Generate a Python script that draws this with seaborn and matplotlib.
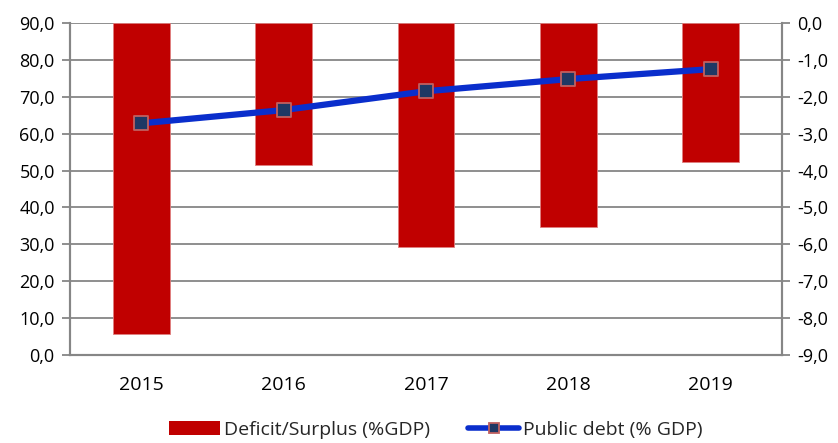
import matplotlib
matplotlib.use("Agg")
import matplotlib.pyplot as plt
import seaborn as sns
import pandas as pd
from matplotlib.ticker import FuncFormatter, FixedLocator
from matplotlib.lines import Line2D
from matplotlib.patches import Patch

years = ["2015", "2016", "2017", "2018", "2019"]
deficit = [-8.43, -3.84, -6.07, -5.54, -3.77]
debt = [62.8, 66.4, 71.5, 74.8, 77.5]
left_ticks = [0, 10, 20, 30, 40, 50, 60, 70, 80, 90]
right_ticks = [0, -1, -2, -3, -4, -5, -6, -7, -8, -9]

sns.set_theme(style="white")
plt.rcParams['font.family'] = ['Open Sans', 'DejaVu Sans']

df = pd.DataFrame({"year": years, "deficit": deficit, "debt": debt})

grey = "#868686"
fig = plt.figure(figsize=(8.38, 4.43), dpi=100)
ax = fig.add_axes([70/838, 1-355/443, (782-70)/838, (355-23)/443])
ax2 = ax.twinx()

# Bars on primary axis (right-hand scale)
sns.barplot(data=df, x="year", y="deficit", ax=ax, color="#C00000",
            width=0.4, edgecolor="#E08080", linewidth=0.6, saturation=1)
ax.set_ylim(-9, 0)
ax.yaxis.tick_right()
ax.yaxis.set_label_position("right")
ax.set_yticks(right_ticks)
fmt = FuncFormatter(lambda v, p: f"{v:.1f}".replace(".", ","))
ax.yaxis.set_major_formatter(fmt)
ax.grid(axis="y", color=grey, linewidth=1.3)
ax.set_axisbelow(True)

# Line on twin axis (left-hand scale)
ax2.plot(range(len(years)), df["debt"], color="#0A2ECC", linewidth=4.5,
         solid_capstyle="round", zorder=3)
sns.scatterplot(x=list(range(len(years))), y=df["debt"], ax=ax2, marker="s",
                s=115, color="#1F3864", edgecolor="#C06060", linewidth=1.3, zorder=4)
ax2.set_ylim(0, 90)
ax2.yaxis.tick_left()
ax2.yaxis.set_label_position("left")
ax2.set_yticks(left_ticks)
ax2.yaxis.set_major_formatter(fmt)

for a in (ax, ax2):
    a.set_xlim(-0.5, 4.5)
    a.set_xlabel("")
    a.set_ylabel("")
    a.spines["top"].set_visible(False)
    for s in ("left", "right", "bottom"):
        a.spines[s].set_color(grey)
        a.spines[s].set_linewidth(1.5)
    a.tick_params(axis="y", colors=grey, labelcolor="black", labelsize=13,
                  length=6, width=1.3, direction="out", pad=5)

ax.xaxis.set_minor_locator(FixedLocator([-0.5, 0.5, 1.5, 2.5, 3.5, 4.5]))
ax.tick_params(axis="x", which="major", length=0, labelsize=14, pad=15,
               labelcolor="black")
ax.tick_params(axis="x", which="minor", length=6, width=1.3, color=grey,
               direction="out")
ax2.tick_params(axis="x", which="both", length=0)

handles = [Patch(facecolor="#C00000", edgecolor="none"),
           Line2D([0], [0], color="#0A2ECC", linewidth=4, marker="s",
                  markersize=7, markerfacecolor="#1F3864",
                  markeredgecolor="#C06060", markeredgewidth=1.3)]
fig.legend(handles, ["Deficit/Surplus (%GDP)", "Public debt (% GDP)"],
           loc="lower center", bbox_to_anchor=(0.52, -0.03), ncol=2,
           frameon=False, fontsize=14, handlelength=2.6, handletextpad=0.2,
           columnspacing=2.0)

fig.savefig("out.png", dpi=100)
